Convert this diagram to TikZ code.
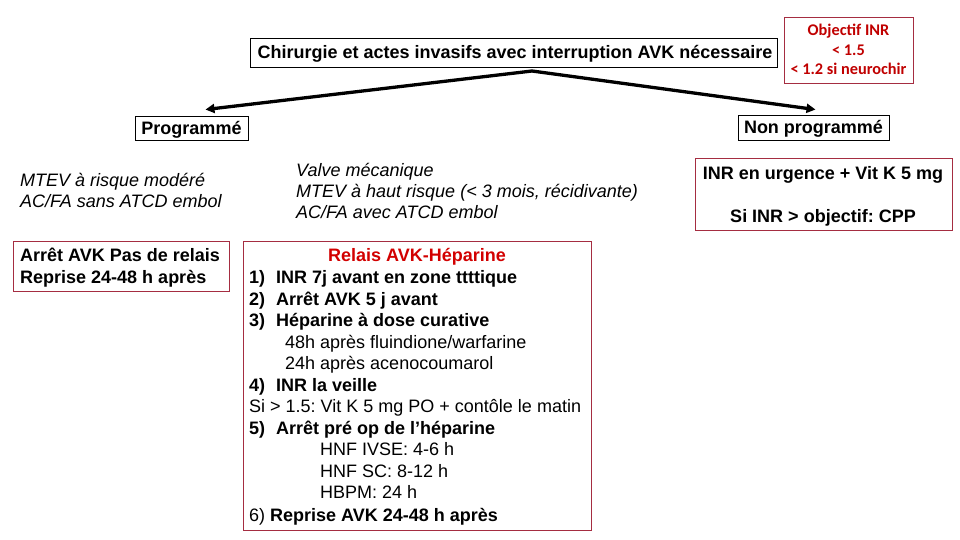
\documentclass[tikz,border=0pt]{standalone}
\usepackage{fontspec}
\setmainfont{Liberation Sans}
\newfontfamily\calib{Carlito}
\usetikzlibrary{arrows.meta}
\frenchspacing
\definecolor{boxred}{RGB}{165,45,65}
\definecolor{txtred}{RGB}{210,0,0}
\definecolor{objred}{RGB}{192,0,0}
\tikzset{
  blackbox/.style={draw=black, line width=0.9pt, inner sep=0pt},
  redbox/.style={draw=boxred, line width=0.9pt, inner sep=0pt},
  txt/.style={anchor=base west, inner sep=0pt, font=\fontsize{18}{21}\selectfont},
  btxt/.style={txt, font=\fontsize{18}{21}\selectfont\bfseries},
  itxt/.style={txt, font=\fontsize{18}{21}\selectfont\itshape},
  ctxt/.style={anchor=base, inner sep=0pt, font=\fontsize{18}{21}\selectfont\bfseries},
  otxt/.style={anchor=base, inner sep=0pt, text=objred, font=\fontsize{16.3}{19}\selectfont\calib\bfseries},
  arr/.style={line width=3.3pt, -{Triangle[length=9pt,width=9pt]}}
}
\begin{document}
\begin{tikzpicture}[x=1pt,y=-1pt]
\useasboundingbox (0,0) rectangle (960,540);
% header
\node[blackbox, minimum width=527pt, minimum height=29pt] (hdr) at (513.5,52.5) {};
\node[ctxt] (hdrt) at (515,59) {Chirurgie et actes invasifs avec interruption AVK nécessaire};
% objectif
\node[redbox, minimum width=129pt, minimum height=66pt] (obj) at (848.5,50) {};
\node[otxt] (obj1) at (848.5,35.5) {Objectif INR};
\node[otxt] (obj2) at (848.5,55.5) {< 1.5};
\node[otxt] (obj3) at (848.5,74.5) {< 1.2 si neurochir};
% branches
\node[blackbox, minimum width=113pt, minimum height=24pt] (prog) at (191.5,128) {};
\node[ctxt] (progt) at (191.5,134.5) {Programmé};
\node[blackbox, minimum width=151pt, minimum height=25pt] (nprog) at (813.5,127.5) {};
\node[ctxt] (nprogt) at (813.5,134) {Non programmé};
\coordinate (apex) at (532,71);
\draw[arr] (apex) -- ([shift={(14,-6)}]prog.north);
\draw[arr] (apex) -- ([shift={(2,-5)}]nprog.north);
% left column
\node[itxt] (l1) at (20,186.5) {MTEV à risque modéré};
\node[itxt] (l2) at (20,207.5) {AC/FA sans ATCD embol};
\node[redbox, minimum width=216pt, minimum height=50pt] (lbox) at (121,266) {};
\node[btxt] (lb1) at (20,261.5) {Arrêt AVK Pas de relais};
\node[btxt] (lb2) at (20,283.5) {Reprise 24-48 h après};
% middle column
\node[itxt] (m1) at (296,176.5) {Valve mécanique};
\node[itxt] (m2) at (296,197.5) {MTEV à haut risque (< 3 mois, récidivante)};
\node[itxt] (m3) at (296,218.5) {AC/FA avec ATCD embol};
\node[redbox, minimum width=348pt, minimum height=289pt] (mbox) at (417,385.5) {};
\node[ctxt, text=txtred] (r0) at (417,261.5) {Relais AVK-Héparine};
\node[btxt] (r1) at (249,283.5) {\makebox[27pt][l]{1)}INR 7j avant en zone ttttique};
\node[btxt] (r2) at (249,305) {\makebox[27pt][l]{2)}Arrêt AVK 5 j avant};
\node[btxt] (r3) at (249,326.5) {\makebox[27pt][l]{3)}Héparine à dose curative};
\node[txt] (r3a) at (285,348) {48h après fluindione/warfarine};
\node[txt] (r3b) at (285,369.5) {24h après acenocoumarol};
\node[btxt] (r4) at (249,391) {\makebox[27pt][l]{4)}INR la veille};
\node[txt] (r4a) at (249,412.5) {Si > 1.5: Vit K 5 mg PO + contôle le matin};
\node[btxt] (r5) at (249,434) {\makebox[27pt][l]{5)}Arrêt pré op de l’héparine};
\node[txt] (r5a) at (320,455.5) {HNF IVSE: 4-6 h};
\node[txt] (r5b) at (320,477) {HNF SC: 8-12 h};
\node[txt] (r5c) at (320,498.5) {HBPM: 24 h};
\node[txt] (r6) at (249,521) {6) \textbf{Reprise AVK 24-48 h après}};
% right column
\node[redbox, minimum width=257pt, minimum height=72pt] (rbox) at (823.5,194) {};
\node[ctxt] (rb1) at (823,179.5) {INR en urgence + Vit K 5 mg};
\node[ctxt] (rb2) at (823,222.5) {Si INR > objectif: CPP};
\end{tikzpicture}
\end{document}
